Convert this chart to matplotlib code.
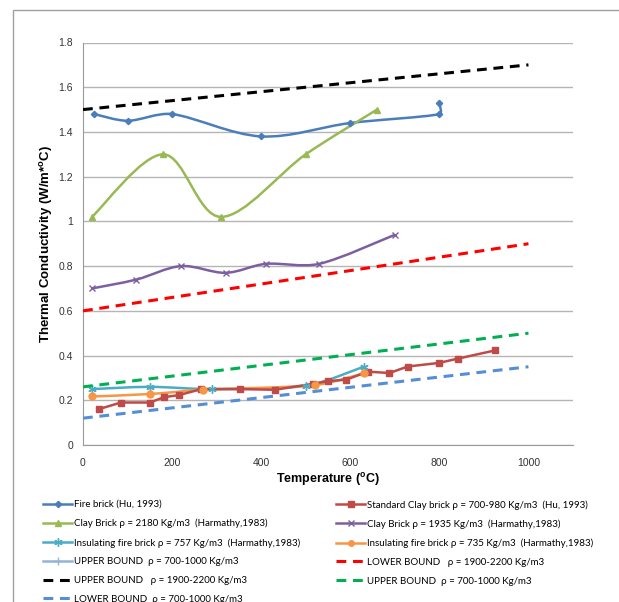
import matplotlib
matplotlib.use('Agg')
import matplotlib.pyplot as plt
import numpy as np
from matplotlib.path import Path
from matplotlib.patches import PathPatch, Rectangle
from matplotlib.lines import Line2D

plt.rcParams['font.family'] = ['Liberation Sans', 'DejaVu Sans']
plt.rcParams['mathtext.fontset'] = 'custom'
plt.rcParams['mathtext.rm'] = 'Liberation Sans:bold'

# data
fire_t = [25, 100, 200, 400, 600, 800, 800]
fire_k = [1.48, 1.45, 1.48, 1.38, 1.44, 1.48, 1.53]

std_t = [35, 85, 150, 182, 215, 266, 352, 431, 517, 551, 591, 639, 688, 729, 799, 841, 925]
std_k = [0.16, 0.19, 0.19, 0.214, 0.223, 0.25, 0.25, 0.247, 0.274, 0.286, 0.292,
         0.328, 0.322, 0.351, 0.367, 0.386, 0.423]

clay2180_t = [20, 180, 310, 500, 660]
clay2180_k = [1.02, 1.30, 1.02, 1.30, 1.50]

clay1935_t = [20, 120, 220, 320, 410, 530, 700]
clay1935_k = [0.70, 0.74, 0.80, 0.77, 0.81, 0.81, 0.94]

ins757_t = [20, 150, 290, 500, 630]
ins757_k = [0.25, 0.26, 0.25, 0.265, 0.35]

ins735_t = [20, 150, 270, 520, 630]
ins735_k = [0.217, 0.228, 0.247, 0.268, 0.32]

bound_t = [0, 1000]
upper_1900 = [1.5, 1.7]
lower_1900 = [0.6, 0.9]
upper_700 = [0.26, 0.5]
lower_700 = [0.12, 0.35]

x_ticks = [0, 200, 400, 600, 800, 1000]
y_ticks = [0, 0.2, 0.4, 0.6, 0.8, 1.0, 1.2, 1.4, 1.6, 1.8]
y_tick_labels = ['0', '0.2', '0.4', '0.6', '0.8', '1', '1.2', '1.4', '1.6', '1.8']

fig = plt.figure(figsize=(6.19, 6.02), dpi=100)
ax_w, ax_h = 490, 402.5
ax = fig.add_axes([83 / 619, 1 - 445 / 602, ax_w / 619, ax_h / 602])
ax.set_xlim(0, 1100)
ax.set_ylim(0, 1.8)

# pixels per data unit, used so the smoothing behaves like on screen
sx = ax_w / 1100
sy = ax_h / 1.8


def smooth_path(xs, ys):
    # Excel-like smoothed line as cubic bezier segments
    pts = np.column_stack([np.asarray(xs) * sx, np.asarray(ys) * sy]).astype(float)
    n = len(pts)
    verts = [pts[0]]
    codes = [Path.MOVETO]
    for i in range(n - 1):
        p0 = pts[i - 1] if i > 0 else pts[i]
        p1 = pts[i]
        p2 = pts[i + 1]
        p3 = pts[i + 2] if i + 2 < n else pts[i + 1]
        seg = np.hypot(*(p2 - p1)) / 3
        t1 = (p2 - p0) / 6
        t2 = (p3 - p1) / 6
        for t in (t1, t2):
            m = np.hypot(*t)
            if m > seg:
                t *= seg / m
        verts += [p1 + t1, p2 - t2, p2]
        codes += [Path.CURVE4] * 3
    verts = np.array(verts) / [sx, sy]
    return Path(verts, codes)


blue = '#4a7ebb'
red = '#be4b48'
green = '#98b954'
purple = '#7d5fa0'
cyan = '#4aacc5'
orange = '#f79646'
lightblue = '#95b3d7'

lw = 1.8


def smooth_series(t, k, color, marker, ms, mew=1.0):
    ax.add_patch(PathPatch(smooth_path(t, k), fill=False, edgecolor=color, lw=lw, zorder=3))
    ax.plot(t, k, ls='none', marker=marker, color=color, ms=ms, mew=mew, zorder=4)


smooth_series(fire_t, fire_k, blue, 'D', 3.2)
ax.plot(std_t, std_k, color=red, lw=lw, marker='s', ms=5, zorder=4)
smooth_series(clay2180_t, clay2180_k, green, '^', 5)
smooth_series(clay1935_t, clay1935_k, purple, 'x', 5, 1.0)
smooth_series(ins757_t, ins757_k, cyan, (6, 2, 0), 6, 1.0)
smooth_series(ins735_t, ins735_k, orange, 'o', 5)

dash = (3.2, 2.2)
ax.plot(bound_t, lower_1900, color='#ff0000', lw=2.2, dashes=dash, zorder=5)
ax.plot(bound_t, upper_1900, color='black', lw=2.2, dashes=dash, zorder=5)
ax.plot(bound_t, upper_700, color='#00b050', lw=2.2, dashes=dash, zorder=5)
ax.plot(bound_t, lower_700, color='#558ed5', lw=2.2, dashes=dash, zorder=5)

ax.set_xticks(x_ticks)
ax.set_yticks(y_ticks)
ax.set_yticklabels(y_tick_labels)
ax.tick_params(length=0, labelsize=7.5, colors='#333333', pad=9)
ax.tick_params(axis='y', pad=7.2)
ax.grid(axis='y', color='#b5b5b5', lw=1)
ax.set_axisbelow(True)
for s in ['top', 'right']:
    ax.spines[s].set_visible(False)
for s in ['left', 'bottom']:
    ax.spines[s].set_color('#9a9a9a')

ax.set_xlabel('Temperature ($^{\\mathrm{o}}$C)', fontsize=9, fontweight='bold', va='center')
ax.set_ylabel('Thermal Conductivity (W/m*$^{\\mathrm{o}}$C)', fontsize=9.5, fontweight='bold', va='center')
ax.xaxis.set_label_coords(0.5, (445 - 479) / ax_h)
ax.yaxis.set_label_coords((47 - 83) / ax_w, 0.5)

# outer chart frame
fig.patches.append(Rectangle((13 / 619, -0.2), 1.2, 1.2 - 9.5 / 602,
                             transform=fig.transFigure, fill=False,
                             edgecolor='#a0a0a0', lw=1))

col1 = [
    Line2D([], [], color=blue, lw=lw, marker='D', ms=3.2),
    Line2D([], [], color=green, lw=lw, marker='^', ms=5),
    Line2D([], [], color=cyan, lw=lw, marker=(6, 2, 0), ms=6),
    Line2D([], [], color=lightblue, lw=lw, marker='+', ms=6),
    Line2D([], [], color='black', lw=2.2, dashes=dash),
    Line2D([], [], color='#558ed5', lw=2.2, dashes=dash),
]
col1_labels = [
    'Fire brick (Hu, 1993)',
    'Clay Brick ρ = 2180 Kg/m3  (Harmathy,1983)',
    'Insulating fire brick ρ = 757 Kg/m3  (Harmathy,1983)',
    'UPPER BOUND  ρ = 700-1000 Kg/m3',
    'UPPER BOUND   ρ = 1900-2200 Kg/m3',
    'LOWER BOUND  ρ = 700-1000 Kg/m3',
]
col2 = [
    Line2D([], [], color=red, lw=lw, marker='s', ms=4),
    Line2D([], [], color=purple, lw=lw, marker='x', ms=5),
    Line2D([], [], color=orange, lw=lw, marker='o', ms=4),
    Line2D([], [], color='#ff0000', lw=2.2, dashes=dash),
    Line2D([], [], color='#00b050', lw=2.2, dashes=dash),
]
col2_labels = [
    'Standard Clay brick ρ = 700-980 Kg/m3  (Hu, 1993)',
    'Clay Brick ρ = 1935 Kg/m3  (Harmathy,1983)',
    'Insulating fire brick ρ = 735 Kg/m3  (Harmathy,1983)',
    'LOWER BOUND   ρ = 1900-2200 Kg/m3',
    'UPPER BOUND  ρ = 700-1000 Kg/m3',
]

leg_kw = dict(loc='upper left', frameon=False, handlelength=3.0,
              handletextpad=0.2, labelspacing=1.0, borderpad=0, borderaxespad=0,
              prop={'family': 'Lato', 'size': 7})
fig.legend(col1, col1_labels, bbox_to_anchor=(43 / 619, 1 - 500 / 602), **leg_kw)
fig.legend(col2, col2_labels, bbox_to_anchor=(336 / 619, 1 - 500 / 602), **leg_kw)

fig.savefig('out.png', dpi=100)
